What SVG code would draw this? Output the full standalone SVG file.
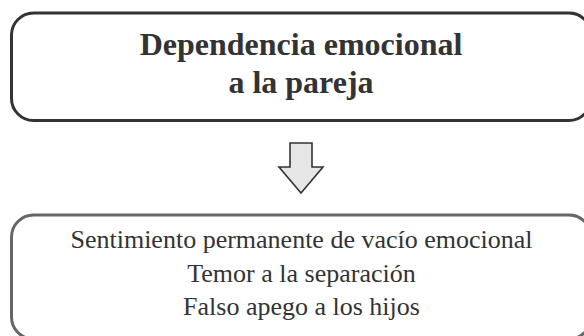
<svg xmlns="http://www.w3.org/2000/svg" width="584" height="336" viewBox="0 0 584 336">
<style>
.box{fill:#fff;stroke-width:3}
.t{font-family:"Liberation Serif",serif;fill:#333;text-anchor:middle}
.h{font-size:32px;font-weight:bold}
.b{font-size:26px}
</style>
<rect width="584" height="336" fill="#fff"/>
<g id="node-top">
<rect class="box" x="11.5" y="13" width="579.5" height="107.5" rx="22" ry="22" stroke="#333"/>
<text class="t h" x="301" y="55">Dependencia emocional</text>
<text class="t h" x="301" y="93">a la pareja</text>
</g>
<g id="connectors">
<path d="M290,143 H312 V167 H323 L301,193 L279,167 H290 Z" fill="#e6e6e6" stroke="#333" stroke-width="1.6" stroke-linejoin="miter"/>
</g>
<g id="node-bottom">
<rect class="box" x="11.5" y="215" width="579.5" height="124" rx="22" ry="22" stroke="#666"/>
<text class="t b" x="301.5" y="248">Sentimiento permanente de vacío emocional</text>
<text class="t b" x="301.5" y="281.5">Temor a la separación</text>
<text class="t b" x="301.5" y="315">Falso apego a los hijos</text>
</g>
</svg>
